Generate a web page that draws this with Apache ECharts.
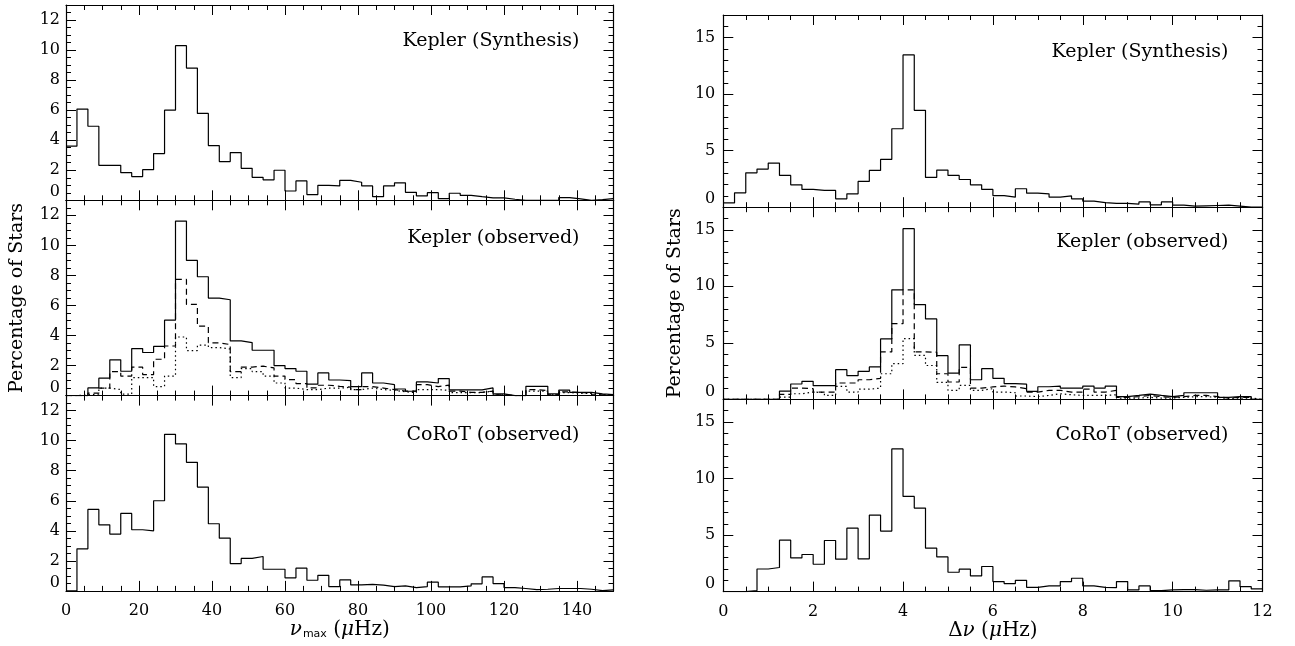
<!DOCTYPE html>
<html>
<head>
<meta charset="utf-8">
<title>numax / dnu distributions</title>
<script src="https://cdn.jsdelivr.net/npm/echarts@6/dist/echarts.min.js"></script>
<style>
html, body { margin: 0; padding: 0; background: #fff; }
#chart { width: 1295px; height: 646px; }
</style>
</head>
<body>
<div id="chart"></div>
<script>
// nu_max histograms: 3 muHz bins from 0 to 150
var numaxBinWidth = 3;
var numaxSynth = [3.6, 6.07, 4.93, 2.33, 2.33, 1.84, 1.58, 2.04, 3.11, 6.0,
    10.29, 8.8, 5.78, 3.64, 2.58, 3.18, 2.13, 1.53, 1.36, 2.0,
    0.62, 1.29, 0.38, 1.0, 0.96, 1.33, 1.2, 0.96, 0.24, 0.96,
    1.16, 0.53, 0.29, 0.51, 0.11, 0.47, 0.33, 0.24, 0.16, 0.16,
    0.07, 0, 0, 0, 0, 0.18, 0.09, 0, 0.04, 0.11];
var numaxKepAll = [0, 0, 0.51, 1.16, 2.38, 1.62, 3.13, 2.87, 3.27, 5.02,
    11.62, 9.0, 7.91, 6.49, 6.38, 3.64, 3.53, 3.02, 3.02, 2.0,
    1.8, 1.62, 0.76, 1.51, 1.04, 1.0, 0.6, 1.51, 0.84, 0.73,
    0.44, 0.29, 0.91, 0.84, 1.13, 0.38, 0.38, 0.38, 0.51, 0.11,
    0, 0, 0.62, 0.62, 0.11, 0.36, 0.22, 0.22, 0.11, 0.07];
var numaxKepDash = [0, 0, 0.16, 0.5, 1.6, 1.3, 1.9, 1.4, 2.42, 3.3,
    7.73, 6.07, 4.62, 3.51, 3.4, 1.6, 1.9, 1.96, 1.84, 1.3,
    1.07, 0.8, 0.51, 0.69, 0.62, 0.56, 0.4, 0.6, 0.5, 0.4,
    0.3, 0.3, 0.73, 0.6, 0.7, 0.3, 0.22, 0.22, 0.3, 0.05,
    0, 0, 0.4, 0.33, 0.05, 0.25, 0.2, 0.2, 0.05, 0.05];
var numaxKepDot = [0, 0.05, 0.1, 0.5, 0.4, 0.1, 1.2, 1.2, 0.6, 1.3,
    3.9, 3.0, 3.36, 3.2, 3.1, 1.2, 1.8, 1.6, 1.3, 0.84,
    0.5, 0.4, 0.4, 0.5, 0.5, 0.55, 0.4, 0.5, 0.4, 0.35,
    0.25, 0.2, 0.4, 0.4, 0.35, 0.2, 0.2, 0.2, 0.3, 0.05,
    0, 0, 0.3, 0.3, 0.05, 0.2, 0.15, 0.15, 0.05, 0.05];
var numaxCorot = [0, 2.8, 5.42, 4.4, 3.78, 5.16, 4.07, 4.0, 6.0, 10.42,
    9.78, 8.56, 6.91, 4.47, 3.51, 1.82, 2.16, 2.29, 1.44, 1.44,
    0.87, 1.51, 0.71, 1.04, 0.29, 0.73, 0.4, 0.44, 0.38, 0.29,
    0.33, 0.22, 0.29, 0.58, 0.27, 0.27, 0.33, 0.47, 0.93, 0.49,
    0.22, 0.16, 0.09, 0.11, 0.16, 0.16, 0.16, 0.11, 0.02, 0.07];

// delta nu histograms: 0.25 muHz bins from 0 to 12
var dnuBinWidth = 0.25;
var dnuSynth = [0.38, 1.27, 3.04, 3.37, 3.9, 2.81, 1.98, 1.57, 1.48, 1.48,
    0.74, 1.18, 2.28, 3.25, 4.23, 6.94, 13.47, 8.57, 2.63, 3.28,
    2.81, 2.45, 1.98, 1.57, 1.03, 0.89, 1.63, 1.24, 1.18, 0.89,
    1.0, 0.74, 0.53, 0.41, 0.33, 0.33, 0.27, 0.47, 0.21, 0.47,
    0.18, 0.09, 0.12, 0.15, 0.18, 0.09, 0, 0];
var dnuKepAll = [0, 0, 0, 0, 0, 0.74, 1.36, 1.6, 1.21, 1.21,
    2.63, 2.1, 2.48, 2.87, 5.35, 9.69, 15.1, 8.39, 7.12, 3.87,
    2.33, 4.82, 1.74, 2.72, 1.86, 1.4, 1.35, 0.71, 1.12, 1.18,
    1.0, 1.0, 1.18, 1.0, 1.18, 0.24, 0.35, 0.47, 0.35, 0.24,
    0.35, 0.59, 0.59, 0.59, 0.18, 0.24, 0.24, 0];
var dnuKepDash = [0, 0, 0, 0, 0, 0.44, 1.0, 0.95, 0.65, 0.65,
    1.45, 1.45, 1.74, 1.86, 4.2, 6.7, 9.69, 4.2, 4.17, 2.27,
    1.54, 2.84, 1.0, 1.1, 1.18, 1.1, 0.95, 0.65, 0.8, 0.8,
    0.65, 0.65, 0.9, 0.65, 0.8, 0.18, 0.24, 0.35, 0.24, 0.18,
    0.24, 0.35, 0.35, 0.24, 0.12, 0.18, 0.18, 0];
var dnuKepDot = [0, 0, 0, 0, 0, 0.2, 0.5, 0.65, 0.6, 0.35,
    1.15, 0.65, 0.9, 1.0, 2.27, 3.16, 5.38, 3.9, 3.0, 1.5,
    0.8, 1.24, 0.8, 0.95, 0.65, 0.59, 0.3, 0.24, 0.35, 0.5,
    0.41, 0.35, 0.35, 0.35, 0.41, 0.12, 0.12, 0.18, 0.12, 0.12,
    0.18, 0.24, 0.24, 0.18, 0.06, 0.12, 0.12, 0];
var dnuCorot = [0, 0, 0.09, 2.0, 2.13, 4.55, 2.98, 3.28, 2.42, 4.52,
    2.87, 5.61, 2.9, 6.77, 5.35, 12.62, 8.42, 7.39, 3.84, 3.07,
    1.71, 1.98, 1.39, 2.22, 0.89, 0.71, 1.0, 0.38, 0.5, 0.5,
    0.89, 1.18, 0.5, 0.38, 0.35, 0.89, 0.15, 0.5, 0.09, 0.15,
    0.18, 0.18, 0.12, 0.15, 0.15, 0.95, 0.44, 0.24];

var panelLabels = ["Kepler (Synthesis)", "Kepler (observed)", "CoRoT (observed)"];
var yTitle = "Percentage of Stars";

var FONT = "DejaVu Serif";

// bins -> step outline points (left edge of each bin, plus closing right edge)
function steps(vals, width)
{
    var pts = [];
    for (var i = 0; i < vals.length; i++) {
        pts.push([i * width, vals[i]]);
    }
    pts.push([vals.length * width, vals[vals.length - 1]]);
    return pts;
}

var columns = [
    {
        left: 66, width: 547.5, top: 5, height: 195.3,
        xMax: 150, xInt: 20, xMinor: 4, showMaxX: false,
        yMax: 13, yInt: 2, yMinor: 4, labelMargin: 6,
        xName: "{nu|ν}{sub|max} ({mu|μ}Hz)",
        panels: [
            [{ data: numaxSynth, type: "solid" }],
            [{ data: numaxKepAll, type: "solid" }, { data: numaxKepDash, type: [6, 4] }, { data: numaxKepDot, type: [1.5, 3] }],
            [{ data: numaxCorot, type: "solid" }]
        ],
        bin: numaxBinWidth,
        labelY: [36, 38, 39]
    },
    {
        left: 723.3, width: 539.2, top: 15, height: 192.2,
        xMax: 12, xInt: 2, xMinor: 4, showMaxX: true,
        yMax: 17, yInt: 5, yMinor: 5, labelMargin: 8,
        xName: "{d|Δ}{nu|ν} ({mu|μ}Hz)",
        panels: [
            [{ data: dnuSynth, type: "solid" }],
            [{ data: dnuKepAll, type: "solid" }, { data: dnuKepDash, type: [6, 4] }, { data: dnuKepDot, type: [1.5, 3] }],
            [{ data: dnuCorot, type: "solid" }]
        ],
        bin: dnuBinWidth,
        labelY: [37, 35, 36]
    }
];

var grids = [], xAxes = [], yAxes = [], series = [], graphics = [];

function axisBase(show, minorSplit)
{
    return {
        axisLine: { show: true, onZero: false, lineStyle: { color: "#000", width: 1.2 } },
        axisTick: { show: true, inside: true, length: 10, lineStyle: { color: "#000", width: 1 } },
        minorTick: { show: true, splitNumber: minorSplit, length: 5, lineStyle: { color: "#000", width: 1 } },
        splitLine: { show: false },
        minorSplitLine: { show: false },
        axisLabel: { show: show }
    };
}

var richName = {
    nu: { fontFamily: FONT, fontSize: 20, fontStyle: "italic", color: "#000" },
    d: { fontFamily: FONT, fontSize: 20, color: "#000" },
    mu: { fontFamily: FONT, fontSize: 20, fontStyle: "italic", color: "#000" },
    sub: { fontFamily: "DejaVu Sans", fontSize: 11, color: "#000", verticalAlign: "bottom", padding: [9, 0, 0, 1] }
};

columns.forEach(function (col, c)
{
    col.panels.forEach(function (lines, r)
    {
        var g = grids.length;
        var top = col.top + r * col.height;
        grids.push({ left: col.left, top: top, width: col.width, height: col.height, containLabel: false });
        var bottomRow = r === 2;

        var xb = axisBase(bottomRow, col.xMinor);
        xb.type = "value"; xb.gridIndex = g; xb.position = "bottom";
        xb.min = 0; xb.max = col.xMax; xb.interval = col.xInt;
        xb.axisLabel = { show: bottomRow, color: "#000", fontFamily: FONT, fontSize: 16, margin: 12, showMaxLabel: col.showMaxX };
        if (bottomRow) {
            xb.name = col.xName;
            xb.nameLocation = "middle";
            xb.nameGap = 29;
            xb.nameTextStyle = { fontFamily: FONT, fontSize: 20, color: "#000", rich: richName };
        }
        xAxes.push(xb);

        var xt = axisBase(false, col.xMinor);
        xt.type = "value"; xt.gridIndex = g; xt.position = "top";
        xt.min = 0; xt.max = col.xMax; xt.interval = col.xInt;
        xAxes.push(xt);

        var yl = axisBase(true, col.yMinor);
        yl.type = "value"; yl.gridIndex = g; yl.position = "left";
        yl.min = 0; yl.max = col.yMax; yl.interval = col.yInt;
        yl.axisLabel = {
            show: true, color: "#000", fontFamily: FONT, fontSize: 16,
            margin: col.labelMargin, showMaxLabel: false, verticalAlignMinLabel: "bottom"
        };
        if (r === 1) {
            yl.name = yTitle;
            yl.nameLocation = "middle";
            yl.nameGap = 39;
            yl.nameTextStyle = { fontFamily: FONT, fontSize: 19, color: "#000" };
        }
        yAxes.push(yl);

        var yr = axisBase(false, col.yMinor);
        yr.type = "value"; yr.gridIndex = g; yr.position = "right";
        yr.min = 0; yr.max = col.yMax; yr.interval = col.yInt;
        yAxes.push(yr);

        lines.forEach(function (ln)
        {
            series.push({
                type: "line",
                xAxisIndex: 2 * g,
                yAxisIndex: 2 * g,
                step: "end",
                symbol: "none",
                silent: true,
                data: steps(ln.data, col.bin),
                lineStyle: { color: "#000", width: 1.2, type: ln.type }
            });
        });

        graphics.push({
            type: "text",
            x: col.left + col.width - 34,
            y: top + col.labelY[r],
            style: {
                text: panelLabels[r],
                fill: "#000",
                font: "19px '" + FONT + "'",
                align: "right",
                verticalAlign: "middle"
            }
        });
    });
});

var chart = echarts.init(document.getElementById("chart"), null, { renderer: "canvas" });
chart.setOption({
    animation: false,
    backgroundColor: "#fff",
    grid: grids,
    xAxis: xAxes,
    yAxis: yAxes,
    series: series,
    graphic: graphics
});
</script>
</body>
</html>
